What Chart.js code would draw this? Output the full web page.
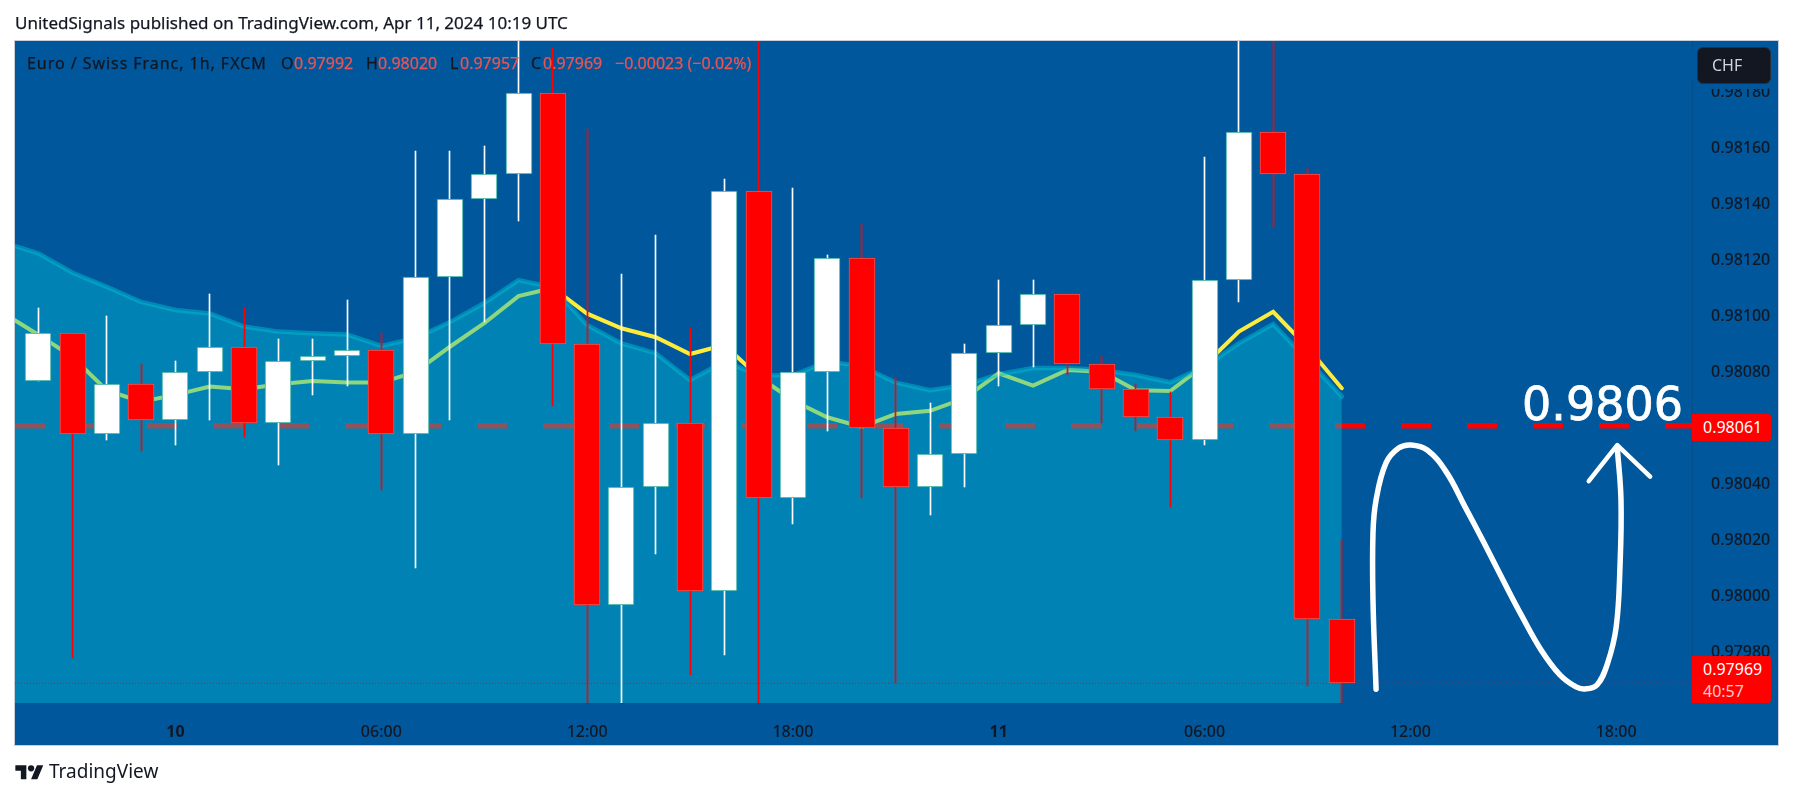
<!DOCTYPE html>
<html>
<head>
<meta charset="utf-8">
<title>EURCHF 1h</title>
<script src="https://cdn.jsdelivr.net/npm/chart.js@4"></script>
<style>
    html, body { margin: 0; padding: 0; background: #fff; width: 1793px; height: 798px; overflow: hidden; }
    body { font-family: "Noto Sans", sans-serif; color: #131722; position: relative; }
    #frame { position: absolute; left: 14px; top: 40px; width: 1763px; height: 704px; background: #00579b; border: 1px solid #c9cedb; }
    #chart { position: absolute; left: 0; top: 0; }
    .txt { position: absolute; white-space: pre; line-height: 1; }
    #header { left: 15px; top: 14px; font-size: 17px; -webkit-text-stroke: 0.25px #131722; }
    .legend { top: 55px; font-size: 16px; -webkit-text-stroke: 0.25px #131722; }
    .up { color: #ef5350; -webkit-text-stroke: 0.25px #ef5350; }
    #chf { position: absolute; left: 1697px; top: 47px; width: 74px; height: 37px; box-sizing: border-box; background: #131722; border: 1px solid #2a2e39; border-radius: 6px; color: #d1d4dc; font-size: 16px; line-height: 35px; padding-left: 14px; box-shadow: 0 0 0 5px #00579b; }
    .tag { position: absolute; left: 1692px; width: 79px; background: #ff0000; color: #fff; border-radius: 0 3px 3px 0; font-size: 16px; padding-left: 11px; box-sizing: border-box; }
    #tagRef { top: 414px; height: 27px; line-height: 27px; }
    #tagLast { top: 656px; height: 47px; line-height: 22px; padding-top: 2px; }
    #tagLast span { color: #ffc9c9; display: block; }
    #bigLabel { left: 1522px; top: 381px; font-family: "DejaVu Sans", sans-serif; font-size: 46px; color: #fff; -webkit-text-stroke: 0.8px #fff; }
    #logo { position: absolute; left: 15px; top: 762px; }
    #brand { left: 49px; top: 762px; font-size: 19px; }
</style>
</head>
<body>
<div id="frame"></div>
<canvas id="chart" width="1793" height="798"></canvas>
<div class="txt" id="header">UnitedSignals published on TradingView.com, Apr 11, 2024 10:19 UTC</div>
<div class="txt legend" style="left:27px;letter-spacing:0.95px">Euro / Swiss Franc, 1h, FXCM</div>
<div class="txt legend" style="left:281px">O</div><div class="txt legend up" style="left:294px">0.97992</div>
<div class="txt legend" style="left:366px">H</div><div class="txt legend up" style="left:378px">0.98020</div>
<div class="txt legend" style="left:450px">L</div><div class="txt legend up" style="left:460px">0.97957</div>
<div class="txt legend" style="left:531px">C</div><div class="txt legend up" style="left:543px">0.97969</div>
<div class="txt legend up" style="left:615px">−0.00023 (−0.02%)</div>
<div id="chf">CHF</div>
<div class="tag" id="tagRef">0.98061</div>
<div class="tag" id="tagLast">0.97969<span>40:57</span></div>
<div class="txt" id="bigLabel">0.9806</div>
<svg id="logo" width="29" height="22" viewBox="0 0 36 28"><path fill="#131722" d="M14 22H7V11H0V4h14v18zM28 22h-8l7.5-18h8L28 22z"/><circle fill="#131722" cx="20" cy="8" r="4"/></svg>
<div class="txt" id="brand">TradingView</div>

<script>
(function () {
    'use strict';

    // hours since the first candle (Apr 9 20:00)
    var candleOpen = [0.98077, 0.98094, 0.98058, 0.98076, 0.98063, 0.98080, 0.98089, 0.98062, 0.98084, 0.98086,
        0.98088, 0.98058, 0.98114, 0.98142, 0.98151, 0.98180, 0.98090, 0.97997, 0.98039, 0.98062,
        0.98002, 0.98145, 0.98035, 0.98080, 0.98121, 0.98060, 0.98039, 0.98051, 0.98087, 0.98097,
        0.98108, 0.98083, 0.98074, 0.98064, 0.98056, 0.98113, 0.98166, 0.98151, 0.97992];
    var candleHigh = [0.98103, 0.98094, 0.98100, 0.98083, 0.98084, 0.98108, 0.98103, 0.98092, 0.98092, 0.98106,
        0.98094, 0.98159, 0.98159, 0.98161, 0.98205, 0.98196, 0.98167, 0.98115, 0.98129, 0.98096,
        0.98149, 0.98205, 0.98146, 0.98122, 0.98133, 0.98078, 0.98069, 0.98090, 0.98113, 0.98113,
        0.98108, 0.98086, 0.98076, 0.98073, 0.98157, 0.98205, 0.98205, 0.98153, 0.98020];
    var candleLow = [0.98077, 0.97978, 0.98056, 0.98052, 0.98054, 0.98063, 0.98057, 0.98047, 0.98072, 0.98075,
        0.98038, 0.98010, 0.98063, 0.98098, 0.98134, 0.98068, 0.97955, 0.97955, 0.98015, 0.97972,
        0.97979, 0.97955, 0.98026, 0.98059, 0.98035, 0.97969, 0.98029, 0.98039, 0.98075, 0.98082,
        0.98079, 0.98062, 0.98059, 0.98032, 0.98054, 0.98105, 0.98132, 0.97968, 0.97957];
    var candleClose = [0.98094, 0.98058, 0.98076, 0.98063, 0.98080, 0.98089, 0.98062, 0.98084, 0.98086, 0.98088,
        0.98058, 0.98114, 0.98142, 0.98151, 0.98180, 0.98090, 0.97997, 0.98039, 0.98062, 0.98002,
        0.98145, 0.98035, 0.98080, 0.98121, 0.98060, 0.98039, 0.98051, 0.98087, 0.98097, 0.98108,
        0.98083, 0.98074, 0.98064, 0.98056, 0.98113, 0.98166, 0.98151, 0.97992, 0.97969];

    // both overlays start one hour before the first candle
    var maLine = [0.98101, 0.980935, 0.980855, 0.980736, 0.980696, 0.98072, 0.98075, 0.98074, 0.980758, 0.98077, 0.980764,
        0.980764, 0.980802, 0.980892, 0.980976, 0.981073, 0.981102, 0.98101, 0.980958, 0.980926, 0.980866,
        0.980898, 0.980785, 0.98070, 0.98064, 0.980606, 0.980652, 0.980663, 0.980708, 0.980797, 0.980753,
        0.980809, 0.980803, 0.980737, 0.980734, 0.980827, 0.980946, 0.981017, 0.98089, 0.980744];
    var cloudTop = [0.981263, 0.981226, 0.981156, 0.981106, 0.981052, 0.981023, 0.981011, 0.980964, 0.980946, 0.98094, 0.980936,
        0.980895, 0.980923, 0.98098, 0.981048, 0.98113, 0.981104, 0.98097, 0.980904, 0.980869, 0.980773,
        0.980839, 0.980791, 0.98079, 0.980839, 0.980823, 0.980764, 0.980737, 0.980755, 0.980794, 0.980816,
        0.980816, 0.980809, 0.980791, 0.980765, 0.980821, 0.980904, 0.980973, 0.980845, 0.980714];

    var refPrice = 0.98061;
    var lastPrice = 0.97969;

    // hand drawn path and arrow head on the right
    var pathHour = [39.0, 38.91, 38.91, 39.0, 39.29, 39.66, 40.02, 40.49, 41.04, 41.59, 42.15, 42.70, 43.26, 43.81, 44.36, 44.83, 45.09, 45.44, 45.75, 46.0, 46.11, 46.14, 46.03];
    var pathPrice = [0.979669, 0.979987, 0.980227, 0.980345, 0.980477, 0.98053, 0.980541, 0.980523, 0.980446, 0.980321, 0.980191, 0.980059, 0.979928, 0.979809, 0.97972, 0.979677, 0.97967, 0.979684, 0.979762, 0.979891, 0.980105, 0.980345, 0.980534];
    var arrowHour = [45.20, 46.03, 46.99];
    var arrowPrice = [0.980412, 0.980541, 0.980428];

    var xTickHours = [4, 10, 16, 22, 28, 34, 40, 46];
    var xTickLabels = ['10', '06:00', '12:00', '18:00', '11', '06:00', '12:00', '18:00'];
    var yTicks = [0.97980, 0.98000, 0.98020, 0.98040, 0.98060, 0.98080, 0.98100, 0.98120, 0.98140, 0.98160, 0.98180];

    var xMin = -0.679, xMax = 48.21;
    var yMin = 0.97961964, yMax = 0.98198393;

    function pair(hours, prices) {
        return hours.map(function (h, i) { return { x: h, y: prices[i] }; });
    }
    function overlay(values) {
        return values.map(function (v, i) { return { x: i - 1, y: v }; });
    }
    function isUp(i) { return candleClose[i] >= candleOpen[i]; }

    var wickData = candleHigh.map(function (h, i) { return { x: i, y: [candleLow[i], h] }; });
    var bodyData = candleOpen.map(function (o, i) { return { x: i, y: [o, candleClose[i]] }; });
    var wickColors = candleOpen.map(function (o, i) { return isUp(i) ? '#ffffff' : '#ff0000'; });
    var bodyBorders = candleOpen.map(function (o, i) { return isUp(i) ? '#26a69a' : '#ef5350'; });

    // keep the thin candle parts sharp on the pixel grid
    var snapBars = {
        id: 'snapBars',
        afterDatasetsUpdate: function (chart) {
            chart.data.datasets.forEach(function (ds, idx) {
                if (ds.type !== 'bar') return;
                chart.getDatasetMeta(idx).data.forEach(function (el) {
                    el.x = ds.barThickness === 1 ? Math.floor(el.x) + 0.5 : Math.round(el.x);
                    el.y = Math.round(el.y);
                    el.base = Math.round(el.base);
                });
            });
        }
    };

    new Chart(document.getElementById('chart').getContext('2d'), {
        type: 'line',
        data: {
            datasets: [
                {
                    label: 'ref', order: 7, data: pair([xMin, xMax], [refPrice, refPrice]),
                    borderColor: '#ff0000', borderWidth: 5.5, borderDash: [30, 36], pointRadius: 0, fill: false
                },
                {
                    label: 'ma', order: 6, data: overlay(maLine),
                    borderColor: '#ffeb3b', borderWidth: 4, pointRadius: 0, fill: false, borderCapStyle: 'round'
                },
                {
                    label: 'cloud', order: 5, data: overlay(cloudTop),
                    borderColor: 'rgba(0,188,212,0.5)', borderWidth: 4.5, pointRadius: 0, borderCapStyle: 'round',
                    backgroundColor: 'rgba(0,188,212,0.44)', fill: 'start'
                },
                {
                    label: 'last', order: 4, data: pair([xMin, xMax], [lastPrice, lastPrice]),
                    borderColor: '#ff0000', borderWidth: 1, borderDash: [1, 2], pointRadius: 0, fill: false
                },
                {
                    label: 'wick', type: 'bar', order: 3, data: wickData, barThickness: 1, grouped: false,
                    backgroundColor: wickColors, borderWidth: 0
                },
                {
                    label: 'body', type: 'bar', order: 2, data: bodyData, barThickness: 26, grouped: false,
                    backgroundColor: wickColors, borderColor: bodyBorders, borderWidth: 1, borderSkipped: false
                },
                {
                    label: 'path', order: 1, data: pair(pathHour, pathPrice),
                    borderColor: '#ffffff', borderWidth: 5.5, pointRadius: 0, tension: 0.4, fill: false,
                    borderCapStyle: 'round', borderJoinStyle: 'round'
                },
                {
                    label: 'arrow', order: 0, data: pair(arrowHour, arrowPrice),
                    borderColor: '#ffffff', borderWidth: 4.5, pointRadius: 0, fill: false,
                    borderCapStyle: 'round', borderJoinStyle: 'round'
                }
            ]
        },
        options: {
            responsive: false,
            animation: false,
            events: [],
            layout: { padding: { left: 15, top: 41, right: 16, bottom: 54 } },
            plugins: { legend: { display: false }, tooltip: { enabled: false } },
            scales: {
                x: {
                    type: 'linear', min: xMin, max: xMax, offset: false,
                    grid: { display: false },
                    border: { display: false },
                    afterFit: function (scale) { scale.height = 41; },
                    afterBuildTicks: function (scale) {
                        scale.ticks = xTickHours.map(function (h) { return { value: h }; });
                    },
                    ticks: {
                        autoSkip: false, maxRotation: 0, padding: 12, color: '#131722',
                        font: function (ctx) {
                            var label = xTickLabels[ctx.index];
                            return { family: '"Noto Sans"', size: 16, weight: label && label.length < 3 ? 'bold' : '500' };
                        },
                        callback: function (v) { return xTickLabels[xTickHours.indexOf(v)]; }
                    }
                },
                y: {
                    type: 'linear', position: 'right', min: yMin, max: yMax,
                    grid: { display: false },
                    border: { display: true, color: 'rgba(19,23,34,0.12)' },
                    afterFit: function (scale) { scale.width = 85; },
                    afterBuildTicks: function (scale) {
                        scale.ticks = yTicks.map(function (v) { return { value: v }; });
                    },
                    ticks: {
                        padding: 11, color: '#131722', font: { family: '"Noto Sans"', size: 16, weight: '500' },
                        callback: function (v) { return v.toFixed(5); }
                    }
                }
            }
        },
        plugins: [snapBars]
    });
})();
</script>
</body>
</html>
